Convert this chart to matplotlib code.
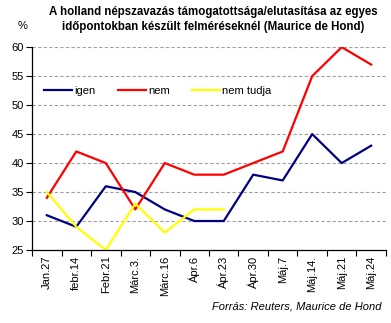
import numpy as np
import matplotlib.pyplot as plt

plt.rcParams['font.family'] = ['Liberation Sans', 'DejaVu Sans']

# Data
dates = ['Jan.27', 'febr.14', 'Febr.21', 'Márc.3.', 'Márc.16', 'Ápr.6',
         'Ápr.23', 'Ápr.30', 'Máj.7', 'Máj.14.', 'Máj.21', 'Máj.24']
igen = [31, 29, 36, 35, 32, 30, 30, 38, 37, 45, 40, 43]
nem = [34, 42, 40, 32, 40, 38, 38, 40, 42, 55, 60, 57]
nem_tudja = [35, 29, 25, 33, 28, 32, 32, np.nan, np.nan, np.nan, np.nan, np.nan]

x = np.arange(len(dates))

fig = plt.figure(figsize=(3.91, 3.23), dpi=100)
ax = fig.add_axes([0.082, 0.226, 0.905, 0.628])

ax.plot(x, igen, color='#000080', lw=1.6, label='igen')
ax.plot(x, nem, color='#FF0000', lw=1.6, label='nem')
ax.plot(x, nem_tudja, color='#FFFF00', lw=1.6, label='nem tudja')

ax.set_xlim(-0.5, len(dates) - 0.5)
ax.set_ylim(25, 60)
ax.set_yticks(range(25, 61, 5))
ax.tick_params(axis='y', labelsize=8, length=4, width=0.8, pad=2)

# Category labels centred, tick marks between categories
ax.set_xticks(x)
ax.set_xticklabels(dates, rotation=90, fontsize=8)
ax.tick_params(axis='x', which='major', length=0, pad=4)
ax.set_xticks(np.arange(-0.5, len(dates)), minor=True)
ax.tick_params(axis='x', which='minor', length=4, width=0.8)

for v in range(30, 61, 5):
    ax.axhline(v, color='#A0A0A0', lw=0.8, ls=(0, (3, 2)), zorder=0)

for s in ['top', 'right']:
    ax.spines[s].set_visible(False)
for s in ['left', 'bottom']:
    ax.spines[s].set_linewidth(0.9)

ax.legend(loc='center left', bbox_to_anchor=(0.035, 0.786), ncol=3, frameon=False,
          fontsize=8, handlelength=2.5, handletextpad=0.2, columnspacing=2.0,
          borderaxespad=0, borderpad=0)

fig.text(0.545, 0.98, 'A holland népszavazás támogatottsága/elutasítása az egyes\n'
         'időpontokban készült felméréseknél (Maurice de Hond)',
         ha='center', va='top', fontsize=8.3, fontweight='bold', linespacing=1.3)
fig.text(0.045, 0.92, '%', ha='left', va='center', fontsize=8)
fig.text(0.975, 0.05, 'Forrás: Reuters, Maurice de Hond', ha='right', va='center',
         fontsize=8, style='italic')

fig.savefig('out.png', dpi=100)
